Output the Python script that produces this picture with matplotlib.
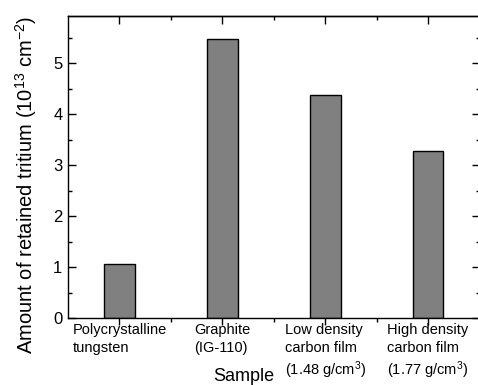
import matplotlib
matplotlib.use("Agg")
import matplotlib.pyplot as plt
from matplotlib.ticker import MultipleLocator, FixedLocator

plt.rcParams['font.family'] = ['Liberation Sans', 'DejaVu Sans']
plt.rcParams['mathtext.fontset'] = 'custom'
plt.rcParams['mathtext.rm'] = 'Liberation Sans'
plt.rcParams['mathtext.it'] = 'Liberation Sans:italic'
plt.rcParams['mathtext.bf'] = 'Liberation Sans:bold'

categories = ["Polycrystalline\ntungsten",
              "Graphite\n(IG-110)",
              "Low density\ncarbon film\n(1.48 g/cm$^{3}$)",
              "High density\ncarbon film\n(1.77 g/cm$^{3}$)"]
values = [1.07, 5.48, 4.38, 3.27]
yticks = [0, 1, 2, 3, 4, 5]

fig = plt.figure(figsize=(4.78, 3.85), dpi=100)
ax = fig.add_axes([68/478, (385-318.3)/385, (479.5-68)/478, (318.3-15.7)/385])

x = list(range(1, len(values) + 1))
ax.bar(x, values, width=0.3, color='#808080', edgecolor='black', linewidth=1.0, zorder=2)

ax.set_xlim(0.5, 4.5)
ax.set_ylim(0, 5.93)
ax.set_yticks(yticks)
ax.yaxis.set_minor_locator(MultipleLocator(0.5))
ax.set_xticks(x)
ax.set_xticklabels(categories, fontsize=10.5, multialignment='left', linespacing=1.32)
ax.xaxis.set_minor_locator(FixedLocator([1.5, 2.5, 3.5]))

for s in ax.spines.values():
    s.set_linewidth(1.0)

ax.tick_params(axis='y', which='both', direction='in', left=True, right=True, labelsize=12, pad=4)
ax.tick_params(axis='y', which='major', length=6, width=1)
ax.tick_params(axis='y', which='minor', length=3, width=1)
ax.tick_params(axis='x', which='both', direction='out', top=False, bottom=True, pad=-1.5)
ax.tick_params(axis='x', which='major', length=5, width=1)
ax.tick_params(axis='x', which='minor', length=3, width=1)

top = ax.secondary_xaxis('top')
top.set_xticks(x)
top.xaxis.set_minor_locator(FixedLocator([1.5, 2.5, 3.5]))
top.tick_params(axis='x', which='both', direction='in', labeltop=False, width=1)
top.tick_params(axis='x', which='major', length=6)
top.tick_params(axis='x', which='minor', length=3)
top.spines['top'].set_linewidth(1.0)

ax.set_ylabel(r"Amount of retained tritium (10$^{13}$ cm$^{\mathrm{-2}}$)", fontsize=14.5)
ax.yaxis.set_label_coords(-0.07, 0.442)
ax.set_xlabel("Sample", fontsize=13)
ax.xaxis.set_label_coords(0.428, -0.163)

fig.savefig("out.png", dpi=100)
